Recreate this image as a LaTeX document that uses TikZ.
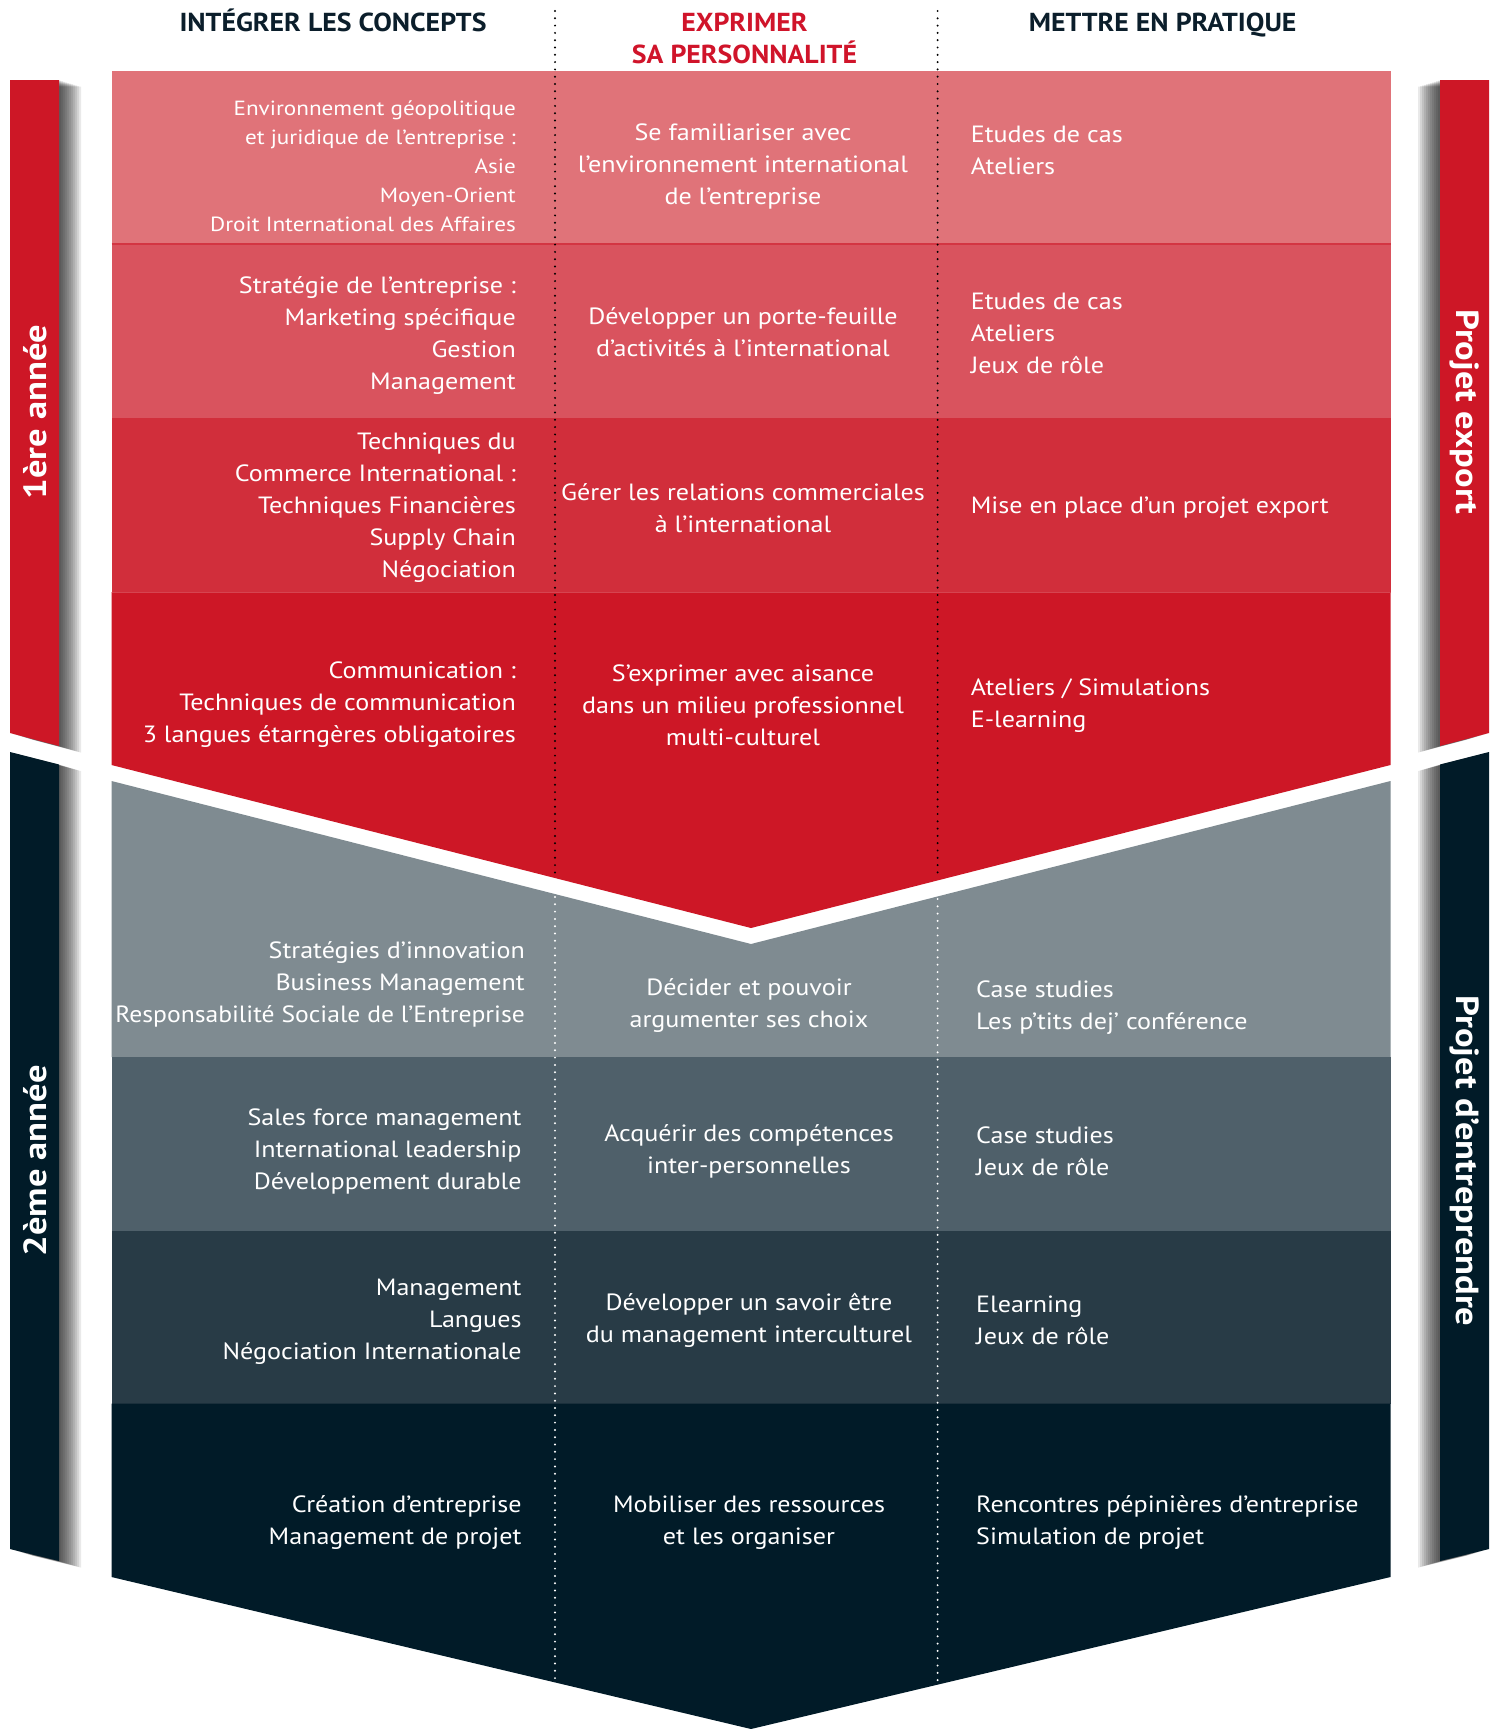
\documentclass[tikz,border=0pt]{standalone}
\usepackage{fontspec}
\setmainfont{PT Sans}[FakeStretch=1.11]
\newfontfamily\smallfont{PT Sans}[FakeStretch=1.13]
\newfontfamily\narrowfont{PT Sans}[FakeStretch=1.09]
\newfontfamily\headfont{PT Sans}[FakeStretch=1.07]
\newfontfamily\sidefont{PT Sans}[FakeStretch=1.14]
\definecolor{rowA}{HTML}{E07379}
\definecolor{rowB}{HTML}{D9535E}
\definecolor{rowC}{HTML}{D12E3B}
\definecolor{rowD}{HTML}{CD1726}
\definecolor{grA}{HTML}{7F8B91}
\definecolor{grB}{HTML}{4F606A}
\definecolor{grC}{HTML}{283B46}
\definecolor{grD}{HTML}{011B28}
\definecolor{navy}{HTML}{0B1E2B}
\definecolor{hred}{HTML}{D0142A}
\tikzset{
  body/.style={text=white, font=\fontsize{23.5}{32}\selectfont, inner sep=0pt},
  smallbody/.style={text=white, font=\smallfont\fontsize{20.5}{28.9}\selectfont, inner sep=0pt},
  lcol/.style={anchor=east, align=right},
  mcol/.style={anchor=center, align=center},
  rcol/.style={anchor=west, align=left},
  head/.style={font=\headfont\bfseries\fontsize{26}{30}\selectfont, inner sep=0pt, anchor=base},
  side/.style={font=\sidefont\bfseries\fontsize{32}{36}\selectfont, text=white, inner sep=0pt},
  blackdots/.style={draw=black, line width=2.2pt, line cap=round, dash pattern=on 0pt off 7.3pt},
  whitedots/.style={draw=white, line width=2.2pt, line cap=round, dash pattern=on 0pt off 7.3pt},
}
\begin{document}
\begin{tikzpicture}[x=1pt,y=-1pt]
\useasboundingbox (0,0) rectangle (1499,1729);
\fill[white] (0,0) rectangle (1499,1729);

% ---------- side bar shadows ----------
\foreach \k in {2,4,...,22}{
  \begin{scope}[shift={(\k,0.3*\k)}]
    \fill[black, fill opacity=0.085] (10,80) -- (59,80) -- (59,746) -- (10,733) -- cycle;
    \fill[black, fill opacity=0.085] (10,752) -- (59,764.5) -- (59,1561) -- (10,1549) -- cycle;
  \end{scope}
  \begin{scope}[shift={(-\k,0.3*\k)}]
    \fill[black, fill opacity=0.085] (1440,80) -- (1489,80) -- (1489,733) -- (1440,746) -- cycle;
    \fill[black, fill opacity=0.085] (1440,764.5) -- (1489,752) -- (1489,1549) -- (1440,1561) -- cycle;
  \end{scope}
}
% ---------- side bars ----------
\fill[rowD] (10,80) -- (59,80) -- (59,746) -- (10,733) -- cycle;
\fill[grD] (10,752) -- (59,764.5) -- (59,1561) -- (10,1549) -- cycle;
\fill[rowD] (1440,80) -- (1489,80) -- (1489,733) -- (1440,746) -- cycle;
\fill[grD] (1440,764.5) -- (1489,752) -- (1489,1549) -- (1440,1561) -- cycle;

\node[side, rotate=90] (y1) at (35,412) {1ère année};
\node[side, rotate=90] (y2) at (35,1161) {2ème année};
\node[side, rotate=-90] (p1) at (1465,412) {Projet export};
\node[side, rotate=-90] (p2) at (1465,1161) {Projet d’entreprendre};

% ---------- first year (red) ----------
\fill[rowA] (111.5,71) rectangle (1390.5,244);
\fill[rowB] (111.5,244) rectangle (1390.5,418);
\fill[rowC] (111.5,418) rectangle (1390.5,592);
\fill[rowD] (111.5,592) -- (1390.5,592) -- (1390.5,765) -- (751,928) -- (111.5,765) -- cycle;
\draw[line width=1.5pt, color=rowC!80!rowB] (111.5,244) -- (1390.5,244);
\draw[line width=1pt, color=rowB!60!rowC] (111.5,592) -- (1390.5,592);

% ---------- second year (grey) ----------
\fill[grA] (111.5,781) -- (751,944) -- (1390.5,781) -- (1390.5,1057) -- (111.5,1057) -- cycle;
\fill[grB] (111.5,1057) rectangle (1390.5,1231);
\fill[grC] (111.5,1231) rectangle (1390.5,1403.5);
\fill[grD] (111.5,1403.5) -- (1390.5,1403.5) -- (1390.5,1577) -- (751,1729) -- (111.5,1577) -- cycle;

% ---------- dotted column separators ----------
\draw[blackdots] (555,11) -- (555,874);
\draw[blackdots] (937.6,11) -- (937.6,877);
\draw[whitedots] (555,897) -- (555,1680);
\draw[whitedots] (937.6,899) -- (937.6,1683);

% ---------- headers ----------
\node[head, text=navy] (h1) at (333,31.7) {INTÉGRER LES CONCEPTS};
\node[head, text=hred] (h2a) at (744.5,31.7) {EXPRIMER};
\node[head, text=hred] (h2b) at (744.5,63.5) {SA PERSONNALITÉ};
\node[head, text=navy] (h3) at (1162.6,31.7) {METTRE EN PRATIQUE};

% ---------- red rows text ----------
\node[smallbody, lcol] (a1) at (516,166) {Environnement géopolitique\\et juridique de l’entreprise :\\Asie\\Moyen-Orient\\Droit International des Affaires};
\node[body, mcol] (b1) at (743,166.6) {Se familiariser avec\\l’environnement international\\de l’entreprise};
\node[body, rcol] (c1) at (970.6,150.6) {Etudes de cas\\Ateliers};

\node[body, lcol] (a2) at (516,336) {Stratégie de l’entreprise :\\Marketing spécifique\\Gestion\\Management};
\node[body, mcol] (b2) at (743,332.6) {Développer un porte-feuille\\d’activités à l’international};
\node[body, rcol] (c2) at (970.6,333) {Etudes de cas\\Ateliers\\Jeux de rôle};

\node[body, lcol] (a3) at (516,507.4) {Techniques du\\Commerce International :\\Techniques Financières\\Supply Chain\\Négociation};
\node[body, mcol] (b3) at (743,508) {Gérer les relations commerciales\\à l’international};
\node[body, rcol] (c3) at (970.6,507.4) {Mise en place d’un projet export};

\node[body, lcol] (a4) at (516,704.8) {Communication :\\Techniques de communication\\3 langues étarngères obligatoires};
\node[body, mcol] (b4) at (743,704.8) {S’exprimer avec aisance\\dans un milieu professionnel\\multi-culturel};
\node[body, rcol] (c4) at (970.6,705.4) {Ateliers / Simulations\\E-learning};

% ---------- grey rows text ----------
\node[body, lcol] (d1) at (525,983.9) {Stratégies d’innovation\\Business Management\\{\narrowfont Responsabilité Sociale de l’Entreprise}};
\node[body, mcol] (e1) at (749,1005.4) {Décider et pouvoir\\argumenter ses choix};
\node[body, rcol] (f1) at (976,1007.6) {Case studies\\Les p’tits dej’ conférence};

\node[body, lcol] (d2) at (521.7,1151.5) {Sales force management\\International leadership\\Développement durable};
\node[body, mcol] (e2) at (749,1151) {Acquérir des compétences\\inter-personnelles};
\node[body, rcol] (f2) at (976,1151) {Case studies\\Jeux de rôle};

\node[body, lcol] (d3) at (521.7,1321.4) {Management\\Langues\\Négociation Internationale};
\node[body, mcol] (e3) at (749,1320.8) {Développer un savoir être\\du management interculturel};
\node[body, rcol] (f3) at (976,1320.8) {Elearning\\Jeux de rôle};

\node[body, lcol] (d4) at (521.7,1522.7) {Création d’entreprise\\Management de projet};
\node[body, mcol] (e4) at (749,1522.7) {Mobiliser des ressources\\et les organiser};
\node[body, rcol] (f4) at (976,1522.7) {Rencontres pépinières d’entreprise\\Simulation de projet};
\end{tikzpicture}
\end{document}
